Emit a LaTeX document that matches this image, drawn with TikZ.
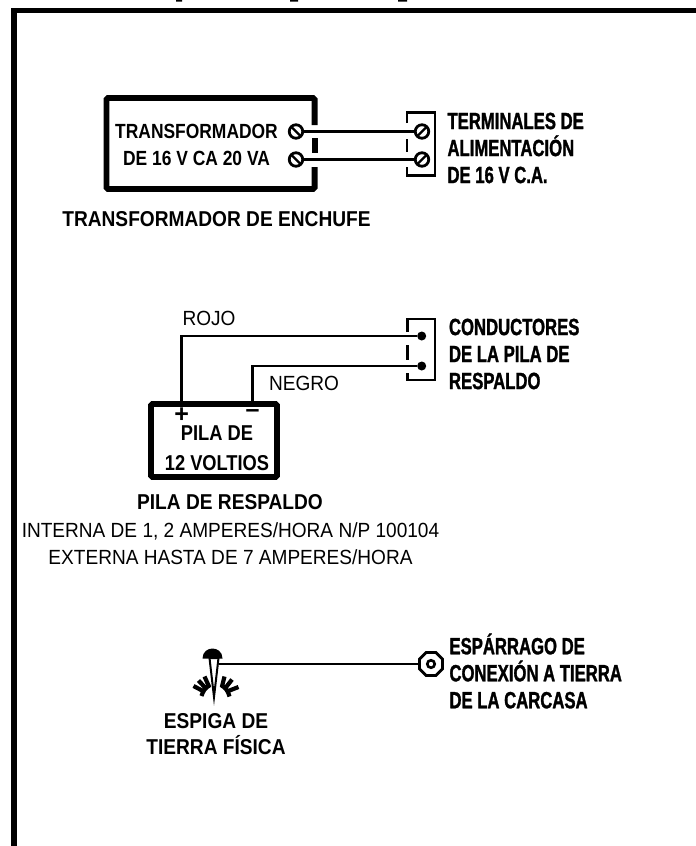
\documentclass[tikz,border=0pt]{standalone}
\usepackage{fontspec}
\usetikzlibrary{shapes.geometric}
\setmainfont{Liberation Sans}
\newfontfamily\condfont[FakeStretch=0.71,FakeBold=1.3]{Liberation Sans Bold}
\newfontfamily\boxfont[FakeStretch=0.85]{Liberation Sans Bold}
\newfontfamily\capfont[FakeStretch=0.89]{Liberation Sans Bold}
\newfontfamily\plainfont[FakeStretch=0.93]{Liberation Sans}
\begin{document}
\begin{tikzpicture}[
      x=1pt, y=-1pt,
      every node/.style={inner sep=0pt, outer sep=0pt},
      wire/.style={draw, line width=2.8pt},
      heavybox/.style={draw, line width=5.8pt, rounded corners=1.5pt},
      bracket/.style={draw, line width=2.8pt},
      boldlabel/.style={font=\fontsize{21.5}{26.5}\selectfont\capfont, align=center},
      boxlabel/.style={font=\fontsize{20.5}{27}\selectfont\boxfont, align=center},
      plainlabel/.style={font=\fontsize{20.5}{26.5}\selectfont\plainfont, align=center},
      condlabel/.style={font=\fontsize{23.5}{27}\selectfont\condfont, align=left, anchor=west},
      signmark/.style={font=\fontsize{25}{25}\selectfont\bfseries, minimum height=16pt},
      screw/.style={circle, draw, line width=2.8pt, minimum size=13.5pt},
      screwback/.style={screw, path picture={\draw[line width=2.2pt] (path picture bounding box.north west) -- (path picture bounding box.south east);}},
      screwfwd/.style={screw, path picture={\draw[line width=2.2pt] (path picture bounding box.south west) -- (path picture bounding box.north east);}},
      leaddot/.style={circle, fill=black, minimum size=9pt},
      tuft/.style={draw, line width=4.2pt}
    ]
    \useasboundingbox (0,0) rectangle (696,846);

    % outer frame, cut by the page on two sides
    \draw[line width=5.6pt] (13.8,850) -- (13.8,10.6) -- (700,10.6);
    \fill (176,0) rectangle (182,1.5) (290,0) rectangle (298,1.5) (398,0) rectangle (407,1.5);

    % transformer
    \draw[heavybox] (314.6,125) -- (314.6,98) -- (106.4,98) -- (106.4,189) -- (314.6,189) -- (314.6,167);
    \draw[line width=5.8pt] (314.6,138) -- (314.6,153);
    \node (xfmrtext) [boxlabel] at (196.5,145) {TRANSFORMADOR\\DE 16 V CA 20 VA};
    \node (xfmrtitle) [boldlabel] at (216.5,219) {TRANSFORMADOR DE ENCHUFE};
    \node (xfmrA) [screwback] at (296,131.5) {};
    \node (xfmrB) [screwback] at (296,159.5) {};

    \draw[bracket] (407,123) -- (407,112.7) -- (435,112.7) -- (435,175.7) -- (407,175.7) -- (407,167);
    \draw[bracket] (407,139) -- (407,152);
    \node (termA) [screwfwd] at (422,131.5) {};
    \node (termB) [screwfwd] at (422,159.5) {};
    \node (termtext) [condlabel] at (447.5,148) {TERMINALES DE\\ALIMENTACIÓN\\DE 16 V C.A.};

    \draw[wire] (xfmrA) -- (termA);
    \draw[wire] (xfmrB) -- (termB);

    % battery
    \node (batt) [heavybox, minimum width=126pt, minimum height=73pt] at (214,440.5) {};
    \node (plus) [signmark] at (181.7,415) {+};
    \node (minus) [signmark] at (252.5,414) {–};
    \node (batttext) [boxlabel, font=\fontsize{21.5}{30}\selectfont\boxfont] at (217,448) {PILA DE\\12 VOLTIOS};

    \draw[bracket] (407.7,332) -- (407.7,319) -- (435,319) -- (435,380) -- (407.7,380) -- (407.7,373);
    \draw[bracket] (407.7,345) -- (407.7,360);
    \node (dotred) [leaddot] at (421.7,336) {};
    \node (dotblack) [leaddot] at (421.7,366) {};
    \node (leadtext) [condlabel] at (449,354) {CONDUCTORES\\DE LA PILA DE\\RESPALDO};

    \draw[wire] (dotred) -| (plus.north);
    \draw[wire] (dotblack) -| (minus.north);
    \node (rojo) [plainlabel] at (209,318) {ROJO};
    \node (negro) [plainlabel] at (304,383) {NEGRO};

    \node (batttitle) [boldlabel] at (230,502) {PILA DE RESPALDO};
    \node (battnote) [plainlabel] at (230.5,543.5) {INTERNA DE 1, 2 AMPERES/HORA N/P 100104\\EXTERNA HASTA DE 7 AMPERES/HORA};

    % ground
    \fill (202.5,658.5) .. controls (202.5,651.5) and (208,648.5) .. (212.5,648.5) .. controls (217,648.5) and (222.5,651.5) .. (222.5,658.5) -- cycle;
    \draw[line width=2pt, fill=white] (209.5,658) -- (218.5,658) -- (214,697) -- cycle;
    \draw[tuft] (201.5,696) .. controls (203,691) and (205,688) .. (210,685);
    \draw[tuft] (204,691.5) -- (193.5,686);
    \draw[tuft] (206,688.5) -- (198.5,680.5);
    \draw[tuft] (209,686.5) -- (204.5,676.5);
    \draw[tuft] (229.5,696.5) .. controls (228,691) and (226,688) .. (221,685);
    \draw[tuft] (227,691.5) -- (238.5,687);
    \draw[tuft] (225,688.5) -- (232,679.5);
    \draw[tuft] (222,686.5) -- (224.5,676.5);
    \coordinate (spike) at (219,664);
    \node (stud) [regular polygon, regular polygon sides=8, draw, line width=2.8pt, minimum size=25pt] at (431,664) {};
    \node (studhole) [circle, draw, line width=2.6pt, minimum size=7.5pt] at (431,664) {};
    \draw[wire] (spike) -- (stud);
    \node (spiketext) [boldlabel] at (216,734) {ESPIGA DE\\TIERRA FÍSICA};
    \node (studtext) [condlabel] at (449.5,671) {ESPÁRRAGO DE\\CONEXIÓN A TIERRA\\DE LA CARCASA};

\end{tikzpicture}
\end{document}
